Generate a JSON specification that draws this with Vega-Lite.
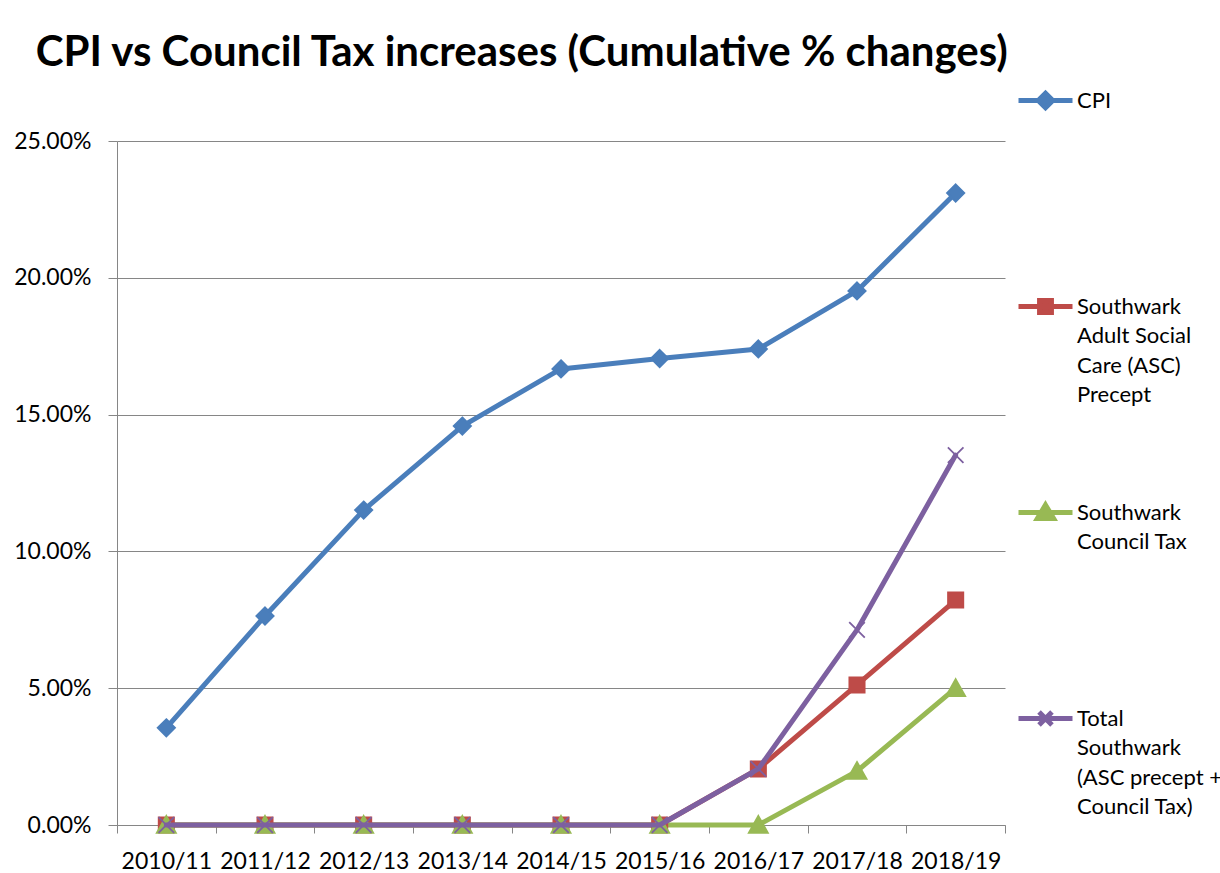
{
  "$schema": "https://vega.github.io/schema/vega-lite/v6.json",
  "width": 888,
  "height": 684,
  "autosize": {"type": "none"},
  "padding": {"left": 117, "top": 141, "right": 215, "bottom": 48},
  "background": "white",
  "title": {
    "text": "CPI vs Council Tax increases (Cumulative % changes)",
    "font": "Lato",
    "fontSize": 42,
    "fontWeight": "bold",
    "color": "black",
    "anchor": "start",
    "dx": 22,
    "offset": -4
  },
  "config": {
    "view": {"stroke": null},
    "font": "Lato"
  },
  "data": {
    "values": [
      {"year": "2010/11", "series": "CPI", "value": 0.0355},
      {"year": "2011/12", "series": "CPI", "value": 0.0764},
      {"year": "2012/13", "series": "CPI", "value": 0.1151},
      {"year": "2013/14", "series": "CPI", "value": 0.1458},
      {"year": "2014/15", "series": "CPI", "value": 0.1667},
      {"year": "2015/16", "series": "CPI", "value": 0.1705},
      {"year": "2016/17", "series": "CPI", "value": 0.1740},
      {"year": "2017/18", "series": "CPI", "value": 0.1952},
      {"year": "2018/19", "series": "CPI", "value": 0.2310},
      {"year": "2010/11", "series": "Southwark Adult Social Care (ASC) Precept", "value": 0},
      {"year": "2011/12", "series": "Southwark Adult Social Care (ASC) Precept", "value": 0},
      {"year": "2012/13", "series": "Southwark Adult Social Care (ASC) Precept", "value": 0},
      {"year": "2013/14", "series": "Southwark Adult Social Care (ASC) Precept", "value": 0},
      {"year": "2014/15", "series": "Southwark Adult Social Care (ASC) Precept", "value": 0},
      {"year": "2015/16", "series": "Southwark Adult Social Care (ASC) Precept", "value": 0},
      {"year": "2016/17", "series": "Southwark Adult Social Care (ASC) Precept", "value": 0.0205},
      {"year": "2017/18", "series": "Southwark Adult Social Care (ASC) Precept", "value": 0.0512},
      {"year": "2018/19", "series": "Southwark Adult Social Care (ASC) Precept", "value": 0.0822},
      {"year": "2010/11", "series": "Southwark Council Tax", "value": 0},
      {"year": "2011/12", "series": "Southwark Council Tax", "value": 0},
      {"year": "2012/13", "series": "Southwark Council Tax", "value": 0},
      {"year": "2013/14", "series": "Southwark Council Tax", "value": 0},
      {"year": "2014/15", "series": "Southwark Council Tax", "value": 0},
      {"year": "2015/16", "series": "Southwark Council Tax", "value": 0},
      {"year": "2016/17", "series": "Southwark Council Tax", "value": 0},
      {"year": "2017/18", "series": "Southwark Council Tax", "value": 0.0197},
      {"year": "2018/19", "series": "Southwark Council Tax", "value": 0.0500},
      {"year": "2010/11", "series": "Total Southwark (ASC precept + Council Tax)", "value": 0},
      {"year": "2011/12", "series": "Total Southwark (ASC precept + Council Tax)", "value": 0},
      {"year": "2012/13", "series": "Total Southwark (ASC precept + Council Tax)", "value": 0},
      {"year": "2013/14", "series": "Total Southwark (ASC precept + Council Tax)", "value": 0},
      {"year": "2014/15", "series": "Total Southwark (ASC precept + Council Tax)", "value": 0},
      {"year": "2015/16", "series": "Total Southwark (ASC precept + Council Tax)", "value": 0},
      {"year": "2016/17", "series": "Total Southwark (ASC precept + Council Tax)", "value": 0.0205},
      {"year": "2017/18", "series": "Total Southwark (ASC precept + Council Tax)", "value": 0.0713},
      {"year": "2018/19", "series": "Total Southwark (ASC precept + Council Tax)", "value": 0.1352}
    ]
  },
  "encoding": {
    "x": {
      "field": "year",
      "type": "ordinal",
      "scale": {"type": "band", "paddingInner": 0, "paddingOuter": 0},
      "axis": {
        "title": null,
        "labelAngle": 0,
        "tickBand": "extent",
        "tickSize": 8,
        "tickColor": "#868686",
        "domainColor": "#868686",
        "labelFont": "Lato",
        "labelFontSize": 23,
        "labelColor": "black",
        "labelPadding": 17,
        "grid": false
      }
    },
    "y": {
      "field": "value",
      "type": "quantitative",
      "scale": {"domain": [0, 0.25], "nice": false},
      "axis": {
        "title": null,
        "values": [0, 0.05, 0.1, 0.15, 0.2, 0.25],
        "format": ".2%",
        "tickSize": 9,
        "tickColor": "#868686",
        "domainColor": "#868686",
        "gridColor": "#868686",
        "gridWidth": 1,
        "labelFont": "Lato",
        "labelFontSize": 23,
        "labelColor": "black",
        "labelPadding": 17
      }
    },
    "color": {
      "field": "series",
      "type": "nominal",
      "scale": {
        "domain": ["CPI", "Southwark Adult Social Care (ASC) Precept", "Southwark Council Tax", "Total Southwark (ASC precept + Council Tax)"],
        "range": ["#4A7EBB", "#BE4B48", "#98B954", "#7D60A0"]
      },
      "legend": {
        "orient": "none",
        "legendX": 899,
        "legendY": -70,
        "title": null,
        "direction": "vertical",
        "labelFont": "Lato",
        "labelFontSize": 22,
        "labelColor": "black",
        "labelLimit": 400,
        "labelOffset": 2,
        "symbolSize": 2916,
        "rowPadding": 77,
        "labelExpr": "datum.label == 'CPI' ? ['CPI', '', '', ''] : datum.label == 'Southwark Adult Social Care (ASC) Precept' ? ['Southwark', 'Adult Social', 'Care (ASC)', 'Precept'] : datum.label == 'Southwark Council Tax' ? ['Southwark', 'Council Tax', '', ''] : ['Total', 'Southwark', '(ASC precept +', 'Council Tax)']",
        "encode": {
          "labels": {
            "update": {
              "lineHeight": {"value": 29.5}
            }
          },
          "symbols": {
            "update": {
              "shape": {"signal": "datum.value == 'CPI' ? 'M-1,0H1M0,-0.27L0.27,0L0,0.27L-0.27,0Z' : datum.value == 'Southwark Adult Social Care (ASC) Precept' ? 'M-1,0H1M-0.22,-0.22H0.22V0.22H-0.22Z' : datum.value == 'Southwark Council Tax' ? 'M-1,0H1M0,-0.28L0.3,0.22H-0.3Z' : 'M-1,0H1M-0.24,-0.24L0.24,0.24M-0.24,0.24L0.24,-0.24'"},
              "fill": {"scale": "color", "field": "value"},
              "stroke": {"scale": "color", "field": "value"},
              "strokeWidth": {"value": 5},
              "opacity": {"value": 1}
            }
          }
        }
      }
    }
  },
  "layer": [
    {
      "transform": [{"filter": "datum.series != 'Total Southwark (ASC precept + Council Tax)'"}],
      "mark": {"type": "line", "strokeWidth": 5, "strokeJoin": "round", "strokeCap": "round"}
    },
    {
      "transform": [{"filter": "datum.series != 'Total Southwark (ASC precept + Council Tax)'"}],
      "mark": {"type": "point", "filled": true, "size": 300, "strokeWidth": 1.8, "opacity": 1},
      "encoding": {
        "shape": {
          "condition": [
            {"test": "datum.series == 'CPI'", "value": "M0,-1L1,0L0,1L-1,0Z"},
            {"test": "datum.series == 'Southwark Adult Social Care (ASC) Precept'", "value": "M-0.88,-0.88H0.88V0.88H-0.88Z"},
            {"test": "datum.series == 'Southwark Council Tax'", "value": "M0,-1.05L1.1,0.9H-1.1Z"}
          ],
          "value": "M-0.9,-0.9L0.9,0.9M-0.9,0.9L0.9,-0.9"
        },
        "stroke": {
          "condition": [
            {"test": "datum.series == 'CPI'", "value": "#4A7EBB"},
            {"test": "datum.series == 'Southwark Adult Social Care (ASC) Precept'", "value": "#BE4B48"},
            {"test": "datum.series == 'Southwark Council Tax'", "value": "#98B954"}
          ],
          "value": "#7D60A0"
        }
      }
    },
    {
      "transform": [{"filter": "datum.series == 'Total Southwark (ASC precept + Council Tax)'"}],
      "mark": {"type": "line", "strokeWidth": 5, "strokeJoin": "round", "strokeCap": "round"}
    },
    {
      "transform": [{"filter": "datum.series == 'Total Southwark (ASC precept + Council Tax)'"}],
      "mark": {"type": "point", "filled": true, "size": 300, "strokeWidth": 1.8, "opacity": 1, "shape": "M-0.9,-0.9L0.9,0.9M-0.9,0.9L0.9,-0.9", "stroke": "#7D60A0"}
    }
  ]
}
